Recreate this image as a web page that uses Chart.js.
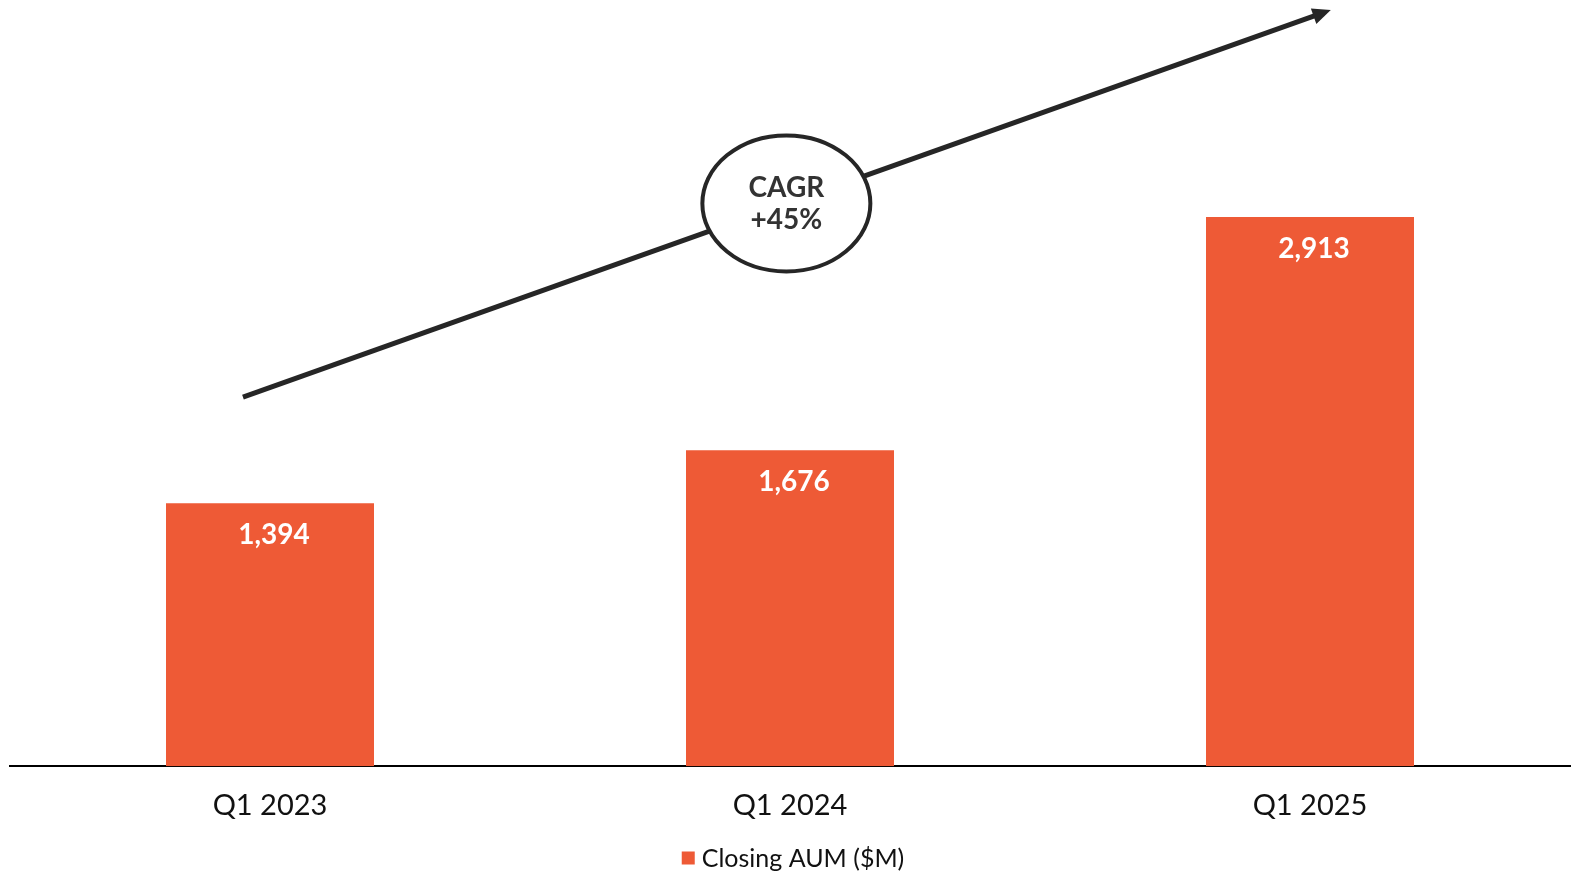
<!DOCTYPE html>
<html>
<head>
<meta charset="utf-8">
<script src="https://cdn.jsdelivr.net/npm/chart.js@4.4.1/dist/chart.umd.min.js"></script>
<style>
  html, body { margin: 0; padding: 0; background: #fff; }
  #wrap { width: 1572px; height: 874px; position: relative; }
</style>
</head>
<body>
<div id="wrap"><canvas id="aumChart"></canvas></div>
<script>
const categories = ['Q1 2023', 'Q1 2024', 'Q1 2025'];
const closingAum = [1394, 1676, 2913];
const seriesName = 'Closing AUM ($M)';
const cagrText = ['CAGR', '+45%'];

const barColor = '#EE5A36';
const inkColor = '#262626';
const fontName = 'Lato, "DejaVu Sans", sans-serif';

// white value labels inside the top of each bar
const valueLabels = {
    id: 'valueLabels',
    afterDatasetsDraw(chart) {
        const {ctx} = chart;
        const meta = chart.getDatasetMeta(0);
        ctx.save();
        ctx.fillStyle = '#fff';
        ctx.font = 'bold 28px ' + fontName;
        ctx.textAlign = 'center';
        ctx.textBaseline = 'middle';
        meta.data.forEach((bar, i) => {
            ctx.fillText(closingAum[i].toLocaleString('en-US'), bar.x + 4, bar.y + 32);
        });
        ctx.restore();
    }
};

// legend drawn by hand so it sits close to the bottom edge
const bottomLegend = {
    id: 'bottomLegend',
    afterDraw(chart) {
        const {ctx, chartArea} = chart;
        const ds = chart.data.datasets[0];
        ctx.save();
        ctx.font = '25px ' + fontName;
        const tw = ctx.measureText(ds.label).width;
        const box = 13, gap = 7;
        const startX = (chartArea.left + chartArea.right) / 2 - (box + gap + tw) / 2 + 3;
        const cy = chart.height - 16;
        ctx.fillStyle = ds.backgroundColor;
        ctx.fillRect(startX, cy - box / 2, box, box);
        ctx.fillStyle = '#111';
        ctx.textBaseline = 'middle';
        ctx.fillText(ds.label, startX + box + gap, cy + 1);
        ctx.restore();
    }
};

// growth arrow with the CAGR bubble, placed through the scales
const cagrArrow = {
    id: 'cagrArrow',
    afterDraw(chart) {
        const {ctx, scales: {x, y}} = chart;
        const x0 = x.getPixelForValue(-0.052), y0 = y.getPixelForValue(1957);
        const x1 = x.getPixelForValue(2.04), y1 = y.getPixelForValue(4010);
        ctx.save();
        ctx.strokeStyle = inkColor;
        ctx.fillStyle = inkColor;
        ctx.lineWidth = 5;
        const ang = Math.atan2(y1 - y0, x1 - x0);
        const head = 20;
        ctx.beginPath();
        ctx.moveTo(x0, y0);
        ctx.lineTo(x1 - Math.cos(ang) * head * 0.8, y1 - Math.sin(ang) * head * 0.8);
        ctx.stroke();
        ctx.beginPath();
        ctx.moveTo(x1, y1);
        ctx.lineTo(x1 - head * Math.cos(ang - 0.42), y1 - head * Math.sin(ang - 0.42));
        ctx.lineTo(x1 - head * Math.cos(ang + 0.42), y1 - head * Math.sin(ang + 0.42));
        ctx.closePath();
        ctx.fill();

        const cx = x.getPixelForValue(0.993), cy = y.getPixelForValue(2985);
        ctx.beginPath();
        ctx.ellipse(cx, cy, 84, 68, 0, 0, Math.PI * 2);
        ctx.fillStyle = '#fff';
        ctx.fill();
        ctx.lineWidth = 4;
        ctx.stroke();

        ctx.fillStyle = '#333';
        ctx.font = 'bold 28px ' + fontName;
        ctx.textAlign = 'center';
        ctx.textBaseline = 'middle';
        ctx.fillText(cagrText[0], cx, cy - 15);
        ctx.fillText(cagrText[1], cx, cy + 17);
        ctx.restore();
    }
};

const ctx = document.getElementById('aumChart').getContext('2d');
const aumChart = new Chart(ctx, {
    type: 'bar',
    data: {
        labels: categories,
        datasets: [{
            label: seriesName,
            data: closingAum,
            backgroundColor: barColor,
            barPercentage: 0.4,
            categoryPercentage: 1.0
        }]
    },
    options: {
        responsive: true,
        maintainAspectRatio: false,
        animation: false,
        layout: { padding: { top: 12, left: 10, right: 2, bottom: 37 } },
        scales: {
            x: {
                grid: { display: false },
                border: { display: true, color: '#000', width: 2 },
                ticks: { color: '#111', font: { family: fontName, size: 29 }, padding: 14 }
            },
            y: {
                display: false,
                min: 0,
                max: 4000
            }
        },
        plugins: {
            legend: { display: false },
            tooltip: { enabled: false }
        }
    },
    plugins: [valueLabels, cagrArrow, bottomLegend]
});
</script>
</body>
</html>
